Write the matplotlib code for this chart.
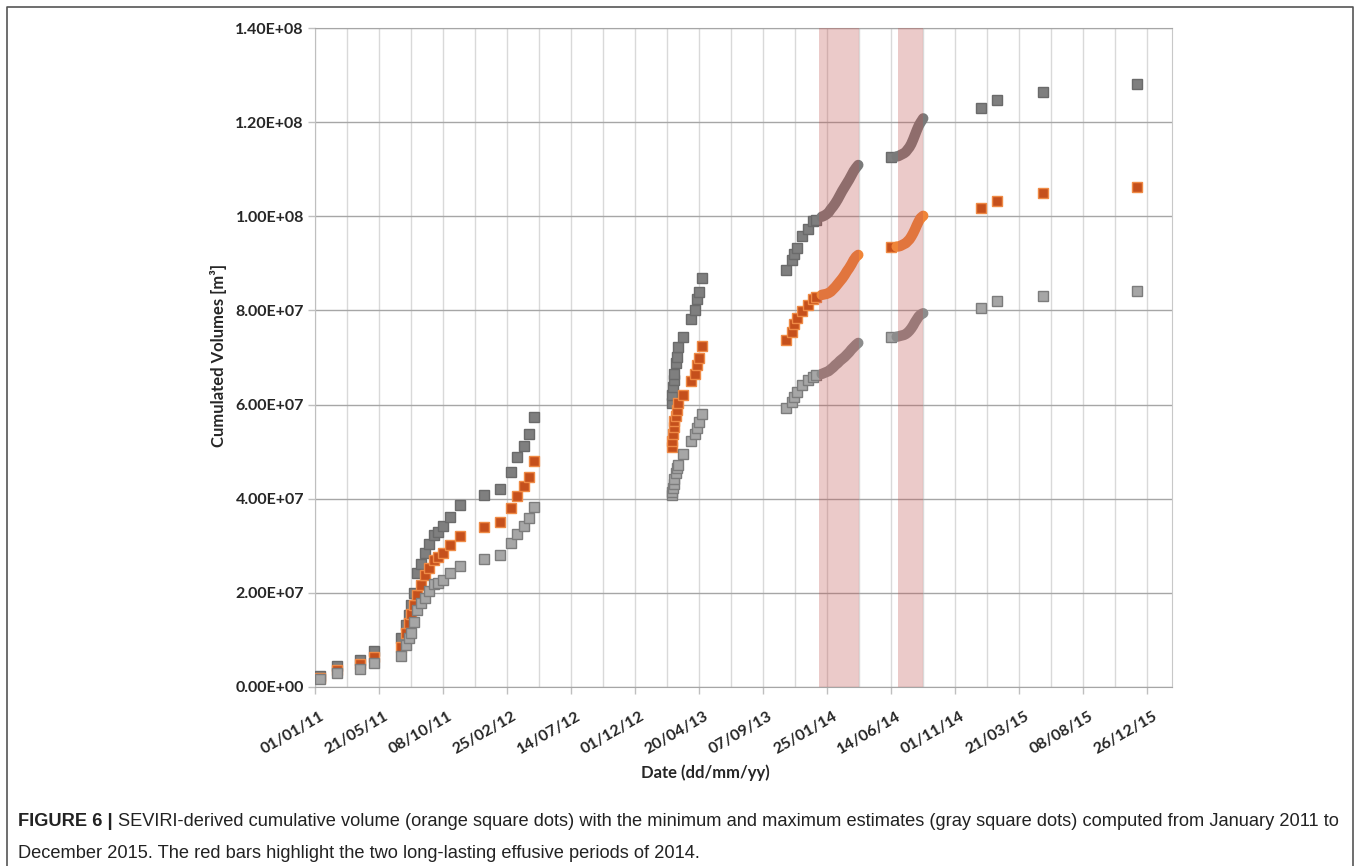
import numpy as np
import pandas as pd
import matplotlib
matplotlib.use("Agg")
import matplotlib.pyplot as plt
import matplotlib.dates as mdates
import matplotlib.transforms as mtransforms
from matplotlib.ticker import FixedLocator, FuncFormatter, NullFormatter
from matplotlib import font_manager
from matplotlib.lines import Line2D

# paroxysm dates 2011-2012 (values in 1e7 m3)
dates_2011 = ["2011-01-12", "2011-02-18", "2011-04-10", "2011-05-11", "2011-07-09",
              "2011-07-19", "2011-07-25", "2011-07-30", "2011-08-05", "2011-08-12",
              "2011-08-20", "2011-08-29", "2011-09-08", "2011-09-19", "2011-09-28",
              "2011-10-08", "2011-10-23", "2011-11-15", "2012-01-05", "2012-02-09",
              "2012-03-04", "2012-03-18", "2012-04-01", "2012-04-12", "2012-04-24"]
max_2011 = [0.23, 0.45, 0.57, 0.77, 1.04, 1.32, 1.53, 1.74, 2.00, 2.42, 2.61, 2.85, 3.04,
            3.23, 3.30, 3.41, 3.61, 3.87, 4.08, 4.20, 4.56, 4.88, 5.11, 5.37, 5.74]
mean_2011 = [0.20, 0.37, 0.48, 0.63, 0.86, 1.14, 1.35, 1.55, 1.75, 1.95, 2.17, 2.38, 2.52,
             2.70, 2.76, 2.85, 3.02, 3.21, 3.39, 3.50, 3.81, 4.06, 4.26, 4.47, 4.80]
min_2011 = [0.17, 0.30, 0.38, 0.52, 0.66, 0.89, 1.04, 1.15, 1.38, 1.64, 1.79, 1.89, 2.03,
            2.19, 2.22, 2.27, 2.42, 2.58, 2.72, 2.80, 3.05, 3.25, 3.42, 3.58, 3.83]

# 2013 paroxysms
dates_2013 = ["2013-02-19", "2013-02-20", "2013-02-21", "2013-02-23", "2013-02-24",
              "2013-02-28", "2013-03-02", "2013-03-05", "2013-03-16", "2013-04-03",
              "2013-04-11", "2013-04-15", "2013-04-20", "2013-04-27",
              "2013-10-26", "2013-11-10", "2013-11-13", "2013-11-21", "2013-12-02",
              "2013-12-13", "2013-12-24", "2013-12-31", "2014-06-13"]
max_2013 = [6.03, 6.20, 6.38, 6.52, 6.66, 6.88, 7.02, 7.22, 7.43, 7.81, 8.01, 8.24, 8.40, 8.68,
            8.86, 9.07, 9.20, 9.32, 9.58, 9.73, 9.89, 9.92, 11.25]
mean_2013 = [5.09, 5.23, 5.38, 5.52, 5.66, 5.76, 5.88, 6.03, 6.20, 6.50, 6.66, 6.84, 7.00, 7.24,
             7.37, 7.55, 7.71, 7.83, 7.99, 8.12, 8.24, 8.29, 9.34]
min_2013 = [4.08, 4.15, 4.22, 4.31, 4.41, 4.54, 4.65, 4.72, 4.96, 5.23, 5.38, 5.50, 5.64, 5.80,
            5.92, 6.06, 6.17, 6.27, 6.42, 6.52, 6.59, 6.63, 7.43]

# 2014-2015 paroxysms
dates_2015 = ["2014-12-28", "2015-02-01", "2015-05-12", "2015-12-03"]
max_2015 = [12.30, 12.47, 12.64, 12.81]
mean_2015 = [10.17, 10.33, 10.49, 10.62]
min_2015 = [8.05, 8.19, 8.31, 8.42]

# first effusive period 2014 (near-daily estimates)
dates_eff1 = ["2014-01-13", "2014-01-18", "2014-01-23", "2014-01-28", "2014-02-02",
              "2014-02-07", "2014-02-12", "2014-02-17", "2014-02-22", "2014-02-27",
              "2014-03-04", "2014-03-09", "2014-03-14", "2014-03-19", "2014-03-24",
              "2014-03-29", "2014-04-03"]
max_eff1 = [9.99, 10.01, 10.04, 10.08, 10.15, 10.21, 10.28, 10.36, 10.45, 10.54, 10.62,
            10.70, 10.78, 10.87, 10.96, 11.03, 11.09]
mean_eff1 = [8.33, 8.34, 8.35, 8.37, 8.40, 8.45, 8.50, 8.56, 8.62, 8.68, 8.75, 8.83, 8.90,
             8.98, 9.07, 9.14, 9.18]
min_eff1 = [6.65, 6.67, 6.69, 6.71, 6.75, 6.79, 6.84, 6.88, 6.93, 6.97, 7.01, 7.06, 7.11,
            7.17, 7.22, 7.27, 7.31]

# second effusive period 2014
dates_eff2 = ["2014-06-26", "2014-06-30", "2014-07-04", "2014-07-08",
              "2014-07-12", "2014-07-16", "2014-07-20", "2014-07-24", "2014-07-28",
              "2014-08-01", "2014-08-05", "2014-08-09", "2014-08-13", "2014-08-17",
              "2014-08-23"]
max_eff2 = [11.27, 11.28, 11.30, 11.32, 11.34, 11.37, 11.42, 11.47, 11.54, 11.63,
            11.73, 11.83, 11.92, 11.99, 12.08]
mean_eff2 = [9.355, 9.36, 9.37, 9.39, 9.41, 9.43, 9.47, 9.51, 9.57, 9.64, 9.72, 9.81,
             9.89, 9.96, 10.01]
min_eff2 = [7.44, 7.45, 7.46, 7.47, 7.48, 7.50, 7.53, 7.57, 7.62, 7.68, 7.75, 7.81,
            7.87, 7.91, 7.94]

effusive = [("2014-01-07", "2014-04-05"), ("2014-06-28", "2014-08-23")]

x_start = "2011-01-01"
x_end = "2016-02-18"

d_sparse = pd.to_datetime(dates_2011 + dates_2013 + dates_2015)
smax = np.array(max_2011 + max_2013 + max_2015) * 1e7
smean = np.array(mean_2011 + mean_2013 + mean_2015) * 1e7
smin = np.array(min_2011 + min_2013 + min_2015) * 1e7

W, H = 1360, 866
fig = plt.figure(figsize=(W / 100, H / 100), dpi=100)
ax = fig.add_axes([315 / W, 1 - 687 / H, (1172 - 315) / W, (687 - 28) / H])

lab_font = "Lato"
cap_names = {f.name for f in font_manager.fontManager.ttflist}
cap_font = "Liberation Sans Narrow" if "Liberation Sans Narrow" in cap_names else "Liberation Sans"
txt_col = "#262626"

ms = 6.5
styles = {
    "max": dict(mfc="#7f7f7f", mec="#6a6a6a", dense="#7a7a7a"),
    "mean": dict(mfc="#c5501c", mec="#ef8a45", dense="#f08538"),
    "min": dict(mfc="#a6a6a6", mec="#7c7c7c", dense="#8c8c8c"),
}
series = [
    ("max", smax, [max_eff1, max_eff2]),
    ("mean", smean, [mean_eff1, mean_eff2]),
    ("min", smin, [min_eff1, min_eff2]),
]
for key, sv, dense_vals in series:
    st = styles[key]
    ax.plot(d_sparse, sv, ls="none", marker="s", ms=ms, mfc=st["mfc"], mec=st["mec"],
            mew=1.0, zorder=3)
    # near-daily points of the effusive periods merge into a thick band
    for dd, vv in zip([dates_eff1, dates_eff2], dense_vals):
        ax.plot(pd.to_datetime(dd), np.array(vv) * 1e7, ls="-", lw=7.5, color=st["dense"],
                solid_capstyle="round", solid_joinstyle="round", zorder=3)

for a, b in effusive:
    ax.axvspan(pd.Timestamp(a), pd.Timestamp(b), color="#c0504d", alpha=0.3, lw=0, zorder=4)

t0 = pd.Timestamp(x_start)
major = [mdates.date2num(t0 + pd.Timedelta(days=140 * k)) for k in range(14)]
minor = [mdates.date2num(t0 + pd.Timedelta(days=70 + 140 * k)) for k in range(13)]
ax.set_xlim(mdates.date2num(t0), mdates.date2num(pd.Timestamp(x_end)))
ax.xaxis.set_major_locator(FixedLocator(major))
ax.xaxis.set_minor_locator(FixedLocator(minor))
ax.xaxis.set_major_formatter(mdates.DateFormatter("%d/%m/%y"))
ax.xaxis.set_minor_formatter(NullFormatter())

ax.set_ylim(0, 1.4e8)
ax.yaxis.set_major_locator(FixedLocator(np.arange(0, 1.41e8, 2e7)))
ax.yaxis.set_major_formatter(FuncFormatter(lambda v, p: f"{v:.2E}"))

ax.set_axisbelow(True)
ax.grid(axis="y", which="major", color="#a6a6a6", lw=1.0, zorder=0)
ax.grid(axis="x", which="both", color="#d9d9d9", lw=1.0, zorder=0)

ax.spines["right"].set_color("#c8c8c8")
ax.spines["left"].set_color("#bfbfbf")
ax.spines["bottom"].set_color("#a6a6a6")
ax.spines["top"].set_color("#a6a6a6")

ax.tick_params(axis="x", which="major", length=5, width=1, color="#bfbfbf", pad=11)
ax.tick_params(axis="x", which="minor", length=0)
ax.tick_params(axis="y", length=5, width=1, color="#bfbfbf", pad=3)

shift = mtransforms.ScaledTranslation(5 / 100, 0, fig.dpi_scale_trans)
for tick in ax.xaxis.get_major_ticks():
    lab = tick.label1
    lab.set_transform(lab.get_transform() + shift)
for lab in ax.get_xticklabels():
    lab.set_rotation(30)
    lab.set_ha("right")
    lab.set_va("top")
    lab.set_rotation_mode("anchor")
    lab.set_fontfamily(lab_font)
    lab.set_fontweight("bold")
    lab.set_fontsize(11.5)
    lab.set_color(txt_col)
for lab in ax.get_yticklabels():
    lab.set_fontfamily(lab_font)
    lab.set_fontweight("bold")
    lab.set_fontsize(11.5)
    lab.set_color(txt_col)

fig.text(218 / W, 1 - 355 / H, "Cumulated Volumes [m³]", rotation=90, ha="center", va="center",
         family=[lab_font, "DejaVu Sans"], weight="bold", fontsize=12, color=txt_col)
fig.text(705 / W, 1 - 773 / H, "Date (dd/mm/yy)", ha="center", va="center",
         family=lab_font, weight="bold", fontsize=12, color=txt_col)

# outer frame
fig.add_artist(Line2D([7 / W, 7 / W, 1353 / W, 1353 / W], [-0.01, 1 - 7 / H, 1 - 7 / H, -0.01],
                      transform=fig.transFigure, color="#555555", lw=1.2))

# caption
cap1b = "FIGURE 6 |"
cap1 = ("SEVIRI-derived cumulative volume (orange square dots) with the minimum and maximum "
        "estimates (gray square dots) computed from January 2011 to")
cap2 = "December 2015. The red bars highlight the two long-lasting effusive periods of 2014."
tb = fig.text(18 / W, 1 - 822 / H, cap1b, ha="left", va="center", family=cap_font,
              weight="bold", fontsize=12, color="#222222")
t1 = fig.text(0, 1 - 822 / H, cap1, ha="left", va="center", family=cap_font,
              fontsize=12, color="#222222")
t2 = fig.text(18 / W, 1 - 853 / H, cap2, ha="left", va="center", family=cap_font,
              fontsize=12, color="#222222")
fig.canvas.draw()
r = fig.canvas.get_renderer()
wb = tb.get_window_extent(r).width
w1 = t1.get_window_extent(r).width
size = 12 * 1322 / (wb + 5 + w1)
for t in (tb, t1, t2):
    t.set_fontsize(size)
fig.canvas.draw()
wb = tb.get_window_extent(r).width
t1.set_x((18 + wb + 5) / W)

fig.savefig("out.png", dpi=100)
